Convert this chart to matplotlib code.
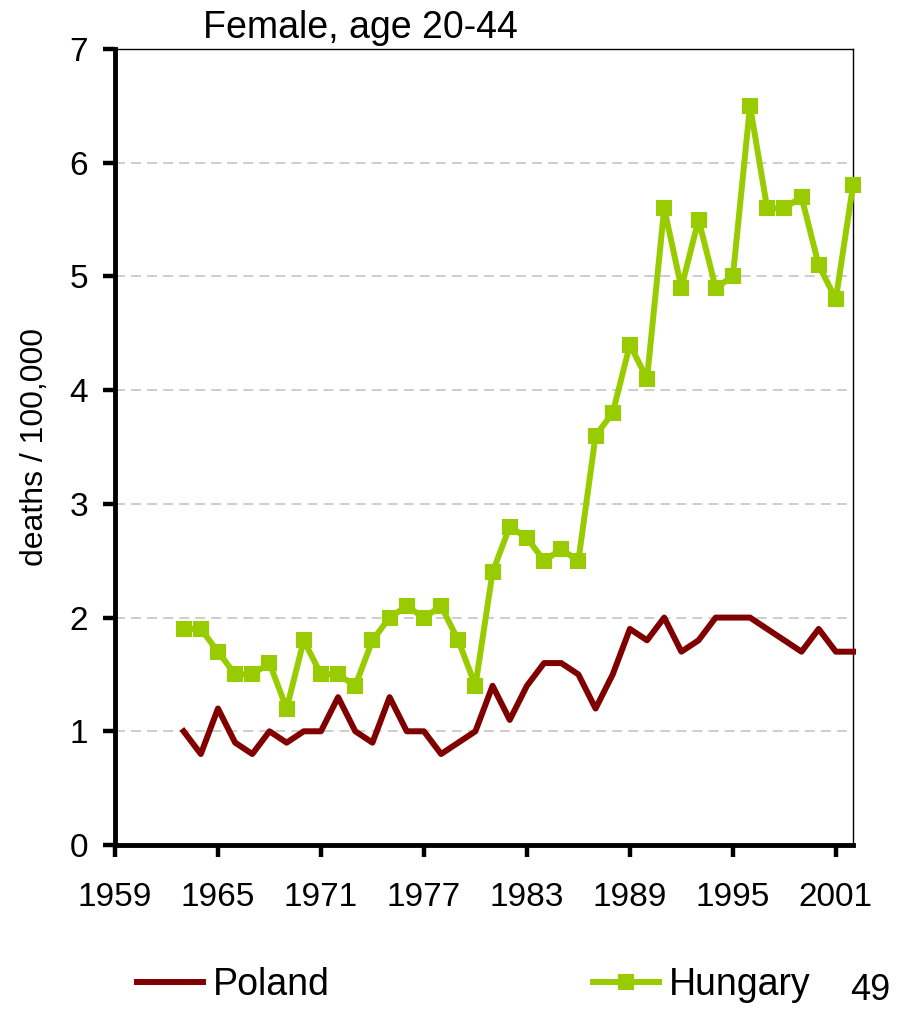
import matplotlib
matplotlib.use("Agg")
import matplotlib.pyplot as plt

plt.rcParams['font.family'] = ['Liberation Sans', 'DejaVu Sans']

# data
years = list(range(1963, 2003))
poland = [1.0, 0.8, 1.2, 0.9, 0.8, 1.0, 0.9, 1.0, 1.0, 1.3,
          1.0, 0.9, 1.3, 1.0, 1.0, 0.8, 0.9, 1.0, 1.4, 1.1,
          1.4, 1.6, 1.6, 1.5, 1.2, 1.5, 1.9, 1.8, 2.0, 1.7,
          1.8, 2.0, 2.0, 2.0, 1.9, 1.8, 1.7, 1.9, 1.7, 1.7]
hungary = [1.9, 1.9, 1.7, 1.5, 1.5, 1.6, 1.2, 1.8, 1.5, 1.5,
           1.4, 1.8, 2.0, 2.1, 2.0, 2.1, 1.8, 1.4, 2.4, 2.8,
           2.7, 2.5, 2.6, 2.5, 3.6, 3.8, 4.4, 4.1, 5.6, 4.9,
           5.5, 4.9, 5.0, 6.5, 5.6, 5.6, 5.7, 5.1, 4.8, 5.8]
xtick_years = [1959, 1965, 1971, 1977, 1983, 1989, 1995, 2001]

W, H = 897, 1009
fig = plt.figure(figsize=(W / 100, H / 100), dpi=100)
ax = fig.add_axes([115 / W, 1 - 845 / H, (853 - 115) / W, (845 - 49) / H])

ax.plot(years, poland, color='#800000', lw=4.3, label='Poland',
        solid_joinstyle='round', clip_on=False, zorder=3)
ax.plot(years, hungary, color='#99cc00', lw=4.3, marker='s', ms=9.5,
        mew=1.5, label='Hungary', clip_on=False, zorder=4)

ax.set_xlim(1959, 2002)
ax.set_ylim(0, 7)
ax.set_xticks(xtick_years)
ax.set_yticks(range(0, 8))

ax.yaxis.grid(True, color='#c0c0c0', lw=1.1, dashes=(6.5, 4))
ax.set_axisbelow(True)

for s in ['left', 'bottom']:
    ax.spines[s].set_linewidth(3.5)
for s in ['top', 'right']:
    ax.spines[s].set_linewidth(1.0)

ax.tick_params(axis='both', direction='out', length=8.5, width=3.2,
               labelsize=24)
ax.tick_params(axis='y', pad=11)
ax.tick_params(axis='x', pad=18)

ax.set_ylabel('deaths / 100,000', fontsize=23)
ax.yaxis.set_label_coords(-0.088, 0.5)

fig.text(360 / W, 1 - 38 / H, 'Female, age 20-44', fontsize=27,
         ha='center', va='baseline')

fig.legend(loc='center left', bbox_to_anchor=(137 / W, 1 - 985 / H),
           ncol=2, frameon=False, fontsize=27, borderpad=0,
           borderaxespad=0, handlelength=1.76, handletextpad=0.27,
           columnspacing=7.0)

fig.text(850 / W, 1 - 1008 / H, '49', fontsize=26, ha='left', va='bottom')

plt.savefig('out.png', dpi=100)
